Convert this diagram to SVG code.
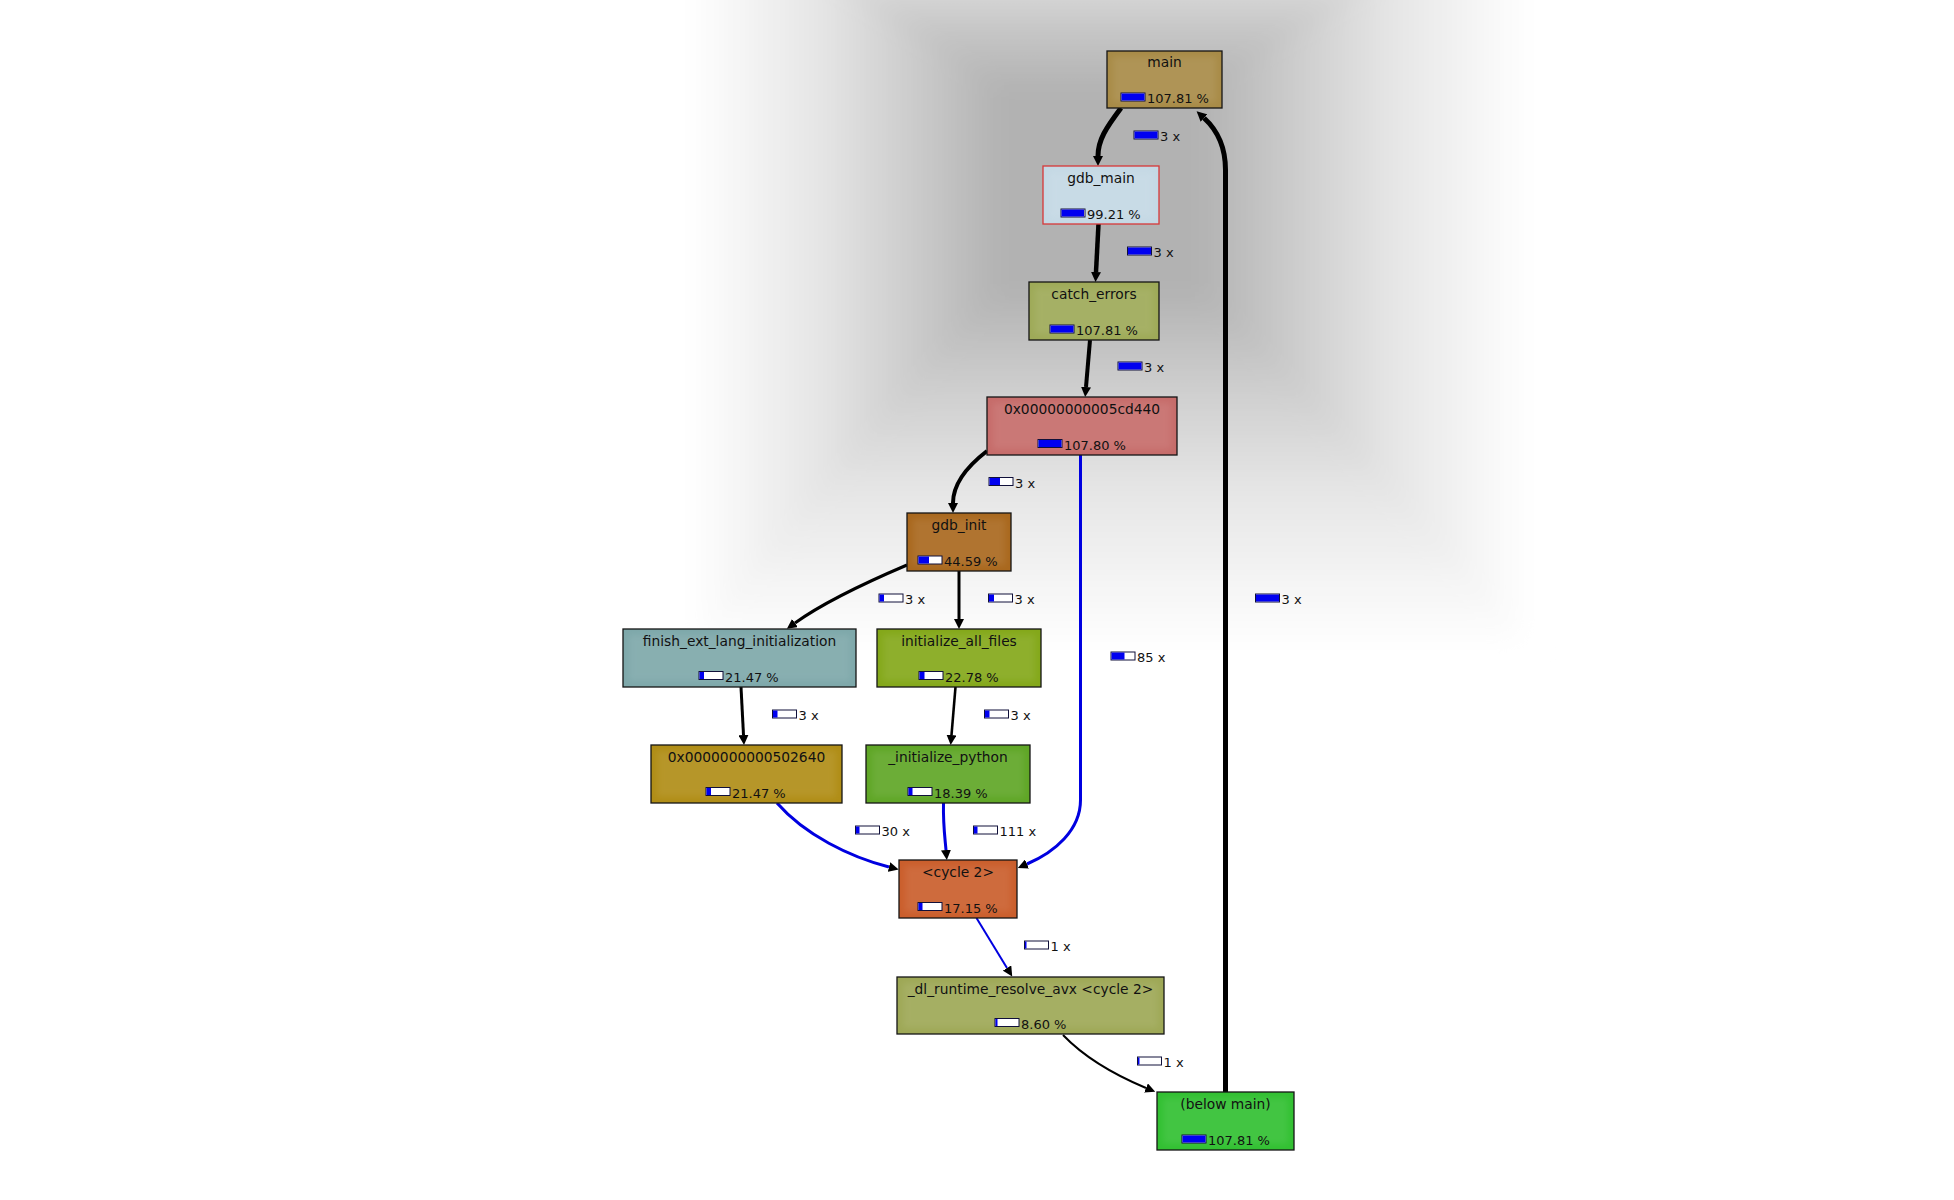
<svg xmlns="http://www.w3.org/2000/svg" width="1954" height="1200" viewBox="0 0 1954 1200">
<defs>
<style>
text{font-family:"DejaVu Sans","Liberation Sans",sans-serif;font-size:13px;fill:#111111}
.nm{text-anchor:middle;font-size:13.8px}
.box{stroke:#151515;stroke-width:1.3}
.hl{fill:#ffffff;opacity:0.08;filter:url(#soft)}
.bo{fill:#ffffff;stroke:#10103a;stroke-width:1}
.bf{fill:#0000f0}
.e{fill:none;stroke:#000;marker-end:url(#ah)}
.b{stroke:#0000e0}
</style>
<filter id="soft" x="-20%" y="-20%" width="140%" height="140%"><feGaussianBlur stdDeviation="3"/></filter>
<filter id="bgblur" x="-20%" y="-20%" width="140%" height="140%"><feGaussianBlur stdDeviation="12"/></filter>
<marker id="ah" viewBox="0 0 10 10" refX="0" refY="5" markerWidth="10" markerHeight="10" markerUnits="userSpaceOnUse" orient="auto"><path d="M0,0 L10,5 L0,10 z" fill="#000"/></marker>
<linearGradient id="gT" gradientUnits="userSpaceOnUse" x1="0" y1="90" x2="0" y2="-110"><stop offset="0" stop-color="#b2b2b2"/><stop offset="0.3" stop-color="#c6c6c6"/><stop offset="0.6" stop-color="#e0e0e0"/><stop offset="1" stop-color="#ffffff"/></linearGradient>
<linearGradient id="gB" gradientUnits="userSpaceOnUse" x1="0" y1="290" x2="0" y2="650"><stop offset="0" stop-color="#b2b2b2"/><stop offset="0.25" stop-color="#cccccc"/><stop offset="0.55" stop-color="#e5e5e5"/><stop offset="0.8" stop-color="#f4f4f4"/><stop offset="1" stop-color="#ffffff"/></linearGradient>
<linearGradient id="gL" gradientUnits="userSpaceOnUse" x1="1000" y1="0" x2="690" y2="0"><stop offset="0" stop-color="#b2b2b2"/><stop offset="0.25" stop-color="#c9c9c9"/><stop offset="0.55" stop-color="#e3e3e3"/><stop offset="0.8" stop-color="#f3f3f3"/><stop offset="1" stop-color="#ffffff"/></linearGradient>
<linearGradient id="gR" gradientUnits="userSpaceOnUse" x1="1200" y1="0" x2="1530" y2="0"><stop offset="0" stop-color="#b2b2b2"/><stop offset="0.25" stop-color="#c9c9c9"/><stop offset="0.55" stop-color="#e3e3e3"/><stop offset="0.8" stop-color="#f3f3f3"/><stop offset="1" stop-color="#ffffff"/></linearGradient>
</defs>
<rect x="0" y="0" width="1954" height="1200" fill="#ffffff"/>
<g id="background" filter="url(#bgblur)">
<polygon points="690,-110 1530,-110 1200,90 1000,90" fill="url(#gT)"/>
<polygon points="690,650 1530,650 1200,290 1000,290" fill="url(#gB)"/>
<polygon points="690,-110 1000,90 1000,290 690,650" fill="url(#gL)"/>
<polygon points="1530,-110 1200,90 1200,290 1530,650" fill="url(#gR)"/>
<rect x="999" y="89" width="202" height="202" fill="#b2b2b2"/>
</g>
<g id="connectors">
<path class="e" stroke-width="5" d="M1121,108 C1106,128 1098,140 1098,156"/>
<path class="e" stroke-width="4.5" d="M1098.5,224 L1096,272"/>
<path class="e" stroke-width="4" d="M1090,340 L1086,387"/>
<path class="e" stroke-width="4" d="M987,451 C965,468 953,485 953,503"/>
<path class="e" stroke-width="3" d="M907,565 C860,585 820,605 795,623"/>
<path class="e" stroke-width="3" d="M959,571 L959,619"/>
<path class="e" stroke-width="3" d="M741,687 L743.5,735"/>
<path class="e" stroke-width="2.6" d="M955.5,687 L951.5,735"/>
<path class="e b" stroke-width="3" d="M777,803 C805,835 850,857 889,867"/>
<path class="e b" stroke-width="3" d="M943.5,803 C943,825 945,838 946,850"/>
<path class="e b" stroke-width="3" d="M1080.5,455 L1080.5,800 C1080.5,830 1055,852 1027,864"/>
<path class="e b" stroke-width="2" d="M976.5,918 L1007,968"/>
<path class="e" stroke-width="2" d="M1063,1035 C1085,1058 1115,1075 1146,1088"/>
<path class="e" stroke-width="5" d="M1225.5,1092 L1225.5,170 C1225.5,145 1215,128 1204,118"/>
<g id="edge-labels">
<rect class="bo" x="1134" y="131" width="24" height="8"/><rect class="bf" x="1134.5" y="131.5" width="23" height="7"/><text x="1160" y="141">3 x</text>
<rect class="bo" x="1127.5" y="247" width="24" height="8"/><rect class="bf" x="1128" y="247.5" width="23" height="7"/><text x="1153.5" y="257">3 x</text>
<rect class="bo" x="1118" y="362" width="24" height="8"/><rect class="bf" x="1118.5" y="362.5" width="23" height="7"/><text x="1144" y="372">3 x</text>
<rect class="bo" x="989" y="477.5" width="24" height="8"/><rect class="bf" x="989.5" y="478" width="10.5" height="7"/><text x="1015" y="487.5">3 x</text>
<rect class="bo" x="879" y="594" width="24" height="8"/><rect class="bf" x="879.5" y="594.5" width="4.5" height="7"/><text x="905" y="604">3 x</text>
<rect class="bo" x="988.5" y="594" width="24" height="8"/><rect class="bf" x="989" y="594.5" width="5" height="7"/><text x="1014.5" y="604">3 x</text>
<rect class="bo" x="1255.5" y="594" width="24" height="8"/><rect class="bf" x="1256" y="594.5" width="23" height="7"/><text x="1281.5" y="604">3 x</text>
<rect class="bo" x="1111" y="652" width="24" height="8"/><rect class="bf" x="1111.5" y="652.5" width="13" height="7"/><text x="1137" y="662">85 x</text>
<rect class="bo" x="772.5" y="710" width="24" height="8"/><rect class="bf" x="773" y="710.5" width="4.5" height="7"/><text x="798.5" y="720">3 x</text>
<rect class="bo" x="984.5" y="710" width="24" height="8"/><rect class="bf" x="985" y="710.5" width="4.5" height="7"/><text x="1010.5" y="720">3 x</text>
<rect class="bo" x="855.5" y="826" width="24" height="8"/><rect class="bf" x="856" y="826.5" width="3.5" height="7"/><text x="881.5" y="836">30 x</text>
<rect class="bo" x="973.5" y="826" width="24" height="8"/><rect class="bf" x="974" y="826.5" width="3.5" height="7"/><text x="999.5" y="836">111 x</text>
<rect class="bo" x="1024.5" y="941" width="24" height="8"/><rect class="bf" x="1025" y="941.5" width="1.5" height="7"/><text x="1050.5" y="951">1 x</text>
<rect class="bo" x="1137.5" y="1057" width="24" height="8"/><rect class="bf" x="1138" y="1057.5" width="1.5" height="7"/><text x="1163.5" y="1067">1 x</text>
</g>
</g>
<g id="node-main">
<rect class="box" x="1107" y="51" width="115" height="57" fill="#a88b47"/><rect class="hl" x="1113" y="57" width="103" height="45"/>
<text class="nm" x="1164.5" y="67">main</text>
<rect class="bo" x="1121" y="93" width="24" height="8"/><rect class="bf" x="1121.5" y="93.5" width="23" height="7"/><text x="1147" y="103">107.81 %</text>
</g>
<g id="node-gdb_main">
<rect class="box" x="1043" y="166" width="116" height="58" fill="#c4d8e4" style="stroke:#d83838"/><rect class="hl" x="1049" y="172" width="104" height="46"/>
<text class="nm" x="1101" y="183">gdb_main</text>
<rect class="bo" x="1061" y="209" width="24" height="8"/><rect class="bf" x="1061.5" y="209.5" width="22.5" height="7"/><text x="1087" y="219">99.21 %</text>
</g>
<g id="node-catch_errors">
<rect class="box" x="1029" y="282" width="130" height="58" fill="#9eaa58"/><rect class="hl" x="1035" y="288" width="118" height="46"/>
<text class="nm" x="1094" y="299">catch_errors</text>
<rect class="bo" x="1050" y="325" width="24" height="8"/><rect class="bf" x="1050.5" y="325.5" width="23" height="7"/><text x="1076" y="335">107.81 %</text>
</g>
<g id="node-5cd440">
<rect class="box" x="987" y="397" width="190" height="58" fill="#c66c6a"/><rect class="hl" x="993" y="403" width="178" height="46"/>
<text class="nm" x="1082" y="414">0x00000000005cd440</text>
<rect class="bo" x="1038" y="439.5" width="24" height="8"/><rect class="bf" x="1038.5" y="440" width="23" height="7"/><text x="1064" y="449.5">107.80 %</text>
</g>
<g id="node-gdb_init">
<rect class="box" x="907" y="513" width="104" height="58" fill="#a9681e"/><rect class="hl" x="913" y="519" width="92" height="46"/>
<text class="nm" x="959" y="530">gdb_init</text>
<rect class="bo" x="918" y="556" width="24" height="8"/><rect class="bf" x="918.5" y="556.5" width="10.5" height="7"/><text x="944" y="566">44.59 %</text>
</g>
<g id="node-finish_ext_lang_initialization">
<rect class="box" x="623" y="629" width="233" height="58" fill="#7ea8aa"/><rect class="hl" x="629" y="635" width="221" height="46"/>
<text class="nm" x="739.5" y="646">finish_ext_lang_initialization</text>
<rect class="bo" x="699" y="671.5" width="24" height="8"/><rect class="bf" x="699.5" y="672" width="4.5" height="7"/><text x="725" y="681.5">21.47 %</text>
</g>
<g id="node-initialize_all_files">
<rect class="box" x="877" y="629" width="164" height="58" fill="#84a81a"/><rect class="hl" x="883" y="635" width="152" height="46"/>
<text class="nm" x="959" y="646">initialize_all_files</text>
<rect class="bo" x="919" y="671.5" width="24" height="8"/><rect class="bf" x="919.5" y="672" width="5" height="7"/><text x="945" y="681.5">22.78 %</text>
</g>
<g id="node-502640">
<rect class="box" x="651" y="745" width="191" height="58" fill="#b08d16"/><rect class="hl" x="657" y="751" width="179" height="46"/>
<text class="nm" x="746.5" y="762">0x0000000000502640</text>
<rect class="bo" x="706" y="787.5" width="24" height="8"/><rect class="bf" x="706.5" y="788" width="4.5" height="7"/><text x="732" y="797.5">21.47 %</text>
</g>
<g id="node-_initialize_python">
<rect class="box" x="866" y="745" width="164" height="58" fill="#5fa626"/><rect class="hl" x="872" y="751" width="152" height="46"/>
<text class="nm" x="948" y="762">_initialize_python</text>
<rect class="bo" x="908" y="787.5" width="24" height="8"/><rect class="bf" x="908.5" y="788" width="4" height="7"/><text x="934" y="797.5">18.39 %</text>
</g>
<g id="node-cycle2">
<rect class="box" x="899" y="860" width="118" height="58" fill="#ca5e2c"/><rect class="hl" x="905" y="866" width="106" height="46"/>
<text class="nm" x="958" y="877">&lt;cycle 2&gt;</text>
<rect class="bo" x="918" y="902.5" width="24" height="8"/><rect class="bf" x="918.5" y="903" width="4" height="7"/><text x="944" y="912.5">17.15 %</text>
</g>
<g id="node-_dl_runtime_resolve_avx">
<rect class="box" x="897" y="977" width="267" height="57" fill="#9ea856"/><rect class="hl" x="903" y="983" width="255" height="45"/>
<text class="nm" x="1030.5" y="994">_dl_runtime_resolve_avx &lt;cycle 2&gt;</text>
<rect class="bo" x="995" y="1018.5" width="24" height="8"/><rect class="bf" x="995.5" y="1019" width="2" height="7"/><text x="1021" y="1028.5">8.60 %</text>
</g>
<g id="node-below_main">
<rect class="box" x="1157" y="1092" width="137" height="58" fill="#32c032"/><rect class="hl" x="1163" y="1098" width="125" height="46"/>
<text class="nm" x="1225.5" y="1109">(below main)</text>
<rect class="bo" x="1182" y="1135" width="24" height="8"/><rect class="bf" x="1182.5" y="1135.5" width="23" height="7"/><text x="1208" y="1145">107.81 %</text>
</g>
</svg>
